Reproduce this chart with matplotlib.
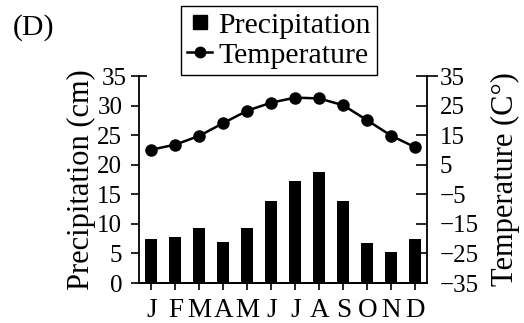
import matplotlib
matplotlib.use("Agg")
import matplotlib.pyplot as plt
from matplotlib.lines import Line2D
from matplotlib.ticker import FixedLocator, FixedFormatter

months = ["J", "F", "M", "A", "M", "J", "J", "A", "S", "O", "N", "D"]
precipitation_cm = [7.4, 7.7, 9.3, 7.0, 9.3, 13.8, 17.3, 18.7, 13.8, 6.8, 5.2, 7.4]
temperature_c = [10.1, 11.8, 14.8, 19.1, 23.3, 26.0, 27.7, 27.4, 25.1, 20.0, 14.8, 10.9]

precip_ticks = [0, 5, 10, 15, 20, 25, 30]
temp_ticks = [-35, -25, -15, -5, 5, 15, 25]

plt.rcParams["font.family"] = ["Liberation Serif", "DejaVu Serif"]
plt.rcParams["axes.unicode_minus"] = True

fig = plt.figure(figsize=(5.24, 3.23), dpi=100)
ax = fig.add_axes([0.2653, 0.1238, 0.8149 - 0.2653, 0.7647 - 0.1238])
ax2 = ax.twinx()

x = list(range(len(months)))
ax.bar(x, precipitation_cm, width=0.5, color="black")
ax2.plot(x, temperature_c, color="black", lw=1.8, marker="o", ms=8)

ax.set_xlim(-0.52, 11.49)
ax.set_ylim(0, 35)
ax2.set_ylim(-35, 35)

tick_fs = 18
ax.set_xticks(x)
ax.set_xticklabels(months, fontsize=19.5)
ax.tick_params(axis="x", direction="out", length=5, width=1.2, pad=6)

# top tick of each scale crosses the spine; the rest point one way only
ax.yaxis.set_major_locator(FixedLocator(precip_ticks))
ax.yaxis.set_minor_locator(FixedLocator([35]))
ax.yaxis.set_minor_formatter(FixedFormatter(["35"]))
ax.tick_params(axis="y", which="major", direction="out", length=6, width=1.2,
               pad=6, labelsize=tick_fs)
ax.tick_params(axis="y", which="minor", direction="inout", length=12, width=1.2,
               pad=6 - 3, labelsize=tick_fs)

ax2.yaxis.set_major_locator(FixedLocator(temp_ticks))
ax2.yaxis.set_minor_locator(FixedLocator([35]))
ax2.yaxis.set_minor_formatter(FixedFormatter(["35"]))
ax2.tick_params(axis="y", which="major", direction="in", length=8, width=1.2,
                pad=9, labelsize=tick_fs)
ax2.tick_params(axis="y", which="minor", direction="inout", length=16, width=1.2,
                pad=9 - 8, labelsize=tick_fs)

for a in (ax, ax2):
    a.spines["top"].set_visible(False)
    for s in a.spines.values():
        s.set_linewidth(1.3)
ax.spines["right"].set_visible(False)
ax2.spines["left"].set_visible(False)

ax.set_ylabel("Precipitation (cm)", fontsize=22, labelpad=1)
ax2.set_ylabel("Temperature (C°)", fontsize=22, labelpad=9)

fig.text(0.025, 0.958, "(D)", fontsize=21.5, ha="left", va="top")

handles = [
    Line2D([], [], color="black", marker="s", ls="none", ms=9.5),
    Line2D([], [], color="black", marker="o", lw=1.8, ms=7.5),
]
leg = fig.legend(handles, ["Precipitation", "Temperature"],
                 loc="upper left", bbox_to_anchor=(181 / 524, 1 - 6 / 323),
                 fontsize=21.5, frameon=True, fancybox=False,
                 edgecolor="black", framealpha=1, borderpad=0.2,
                 handlelength=0.85, handletextpad=0.2, labelspacing=0.1,
                 borderaxespad=0)
leg.get_frame().set_linewidth(1.0)

fig.savefig("out.png", dpi=100)
